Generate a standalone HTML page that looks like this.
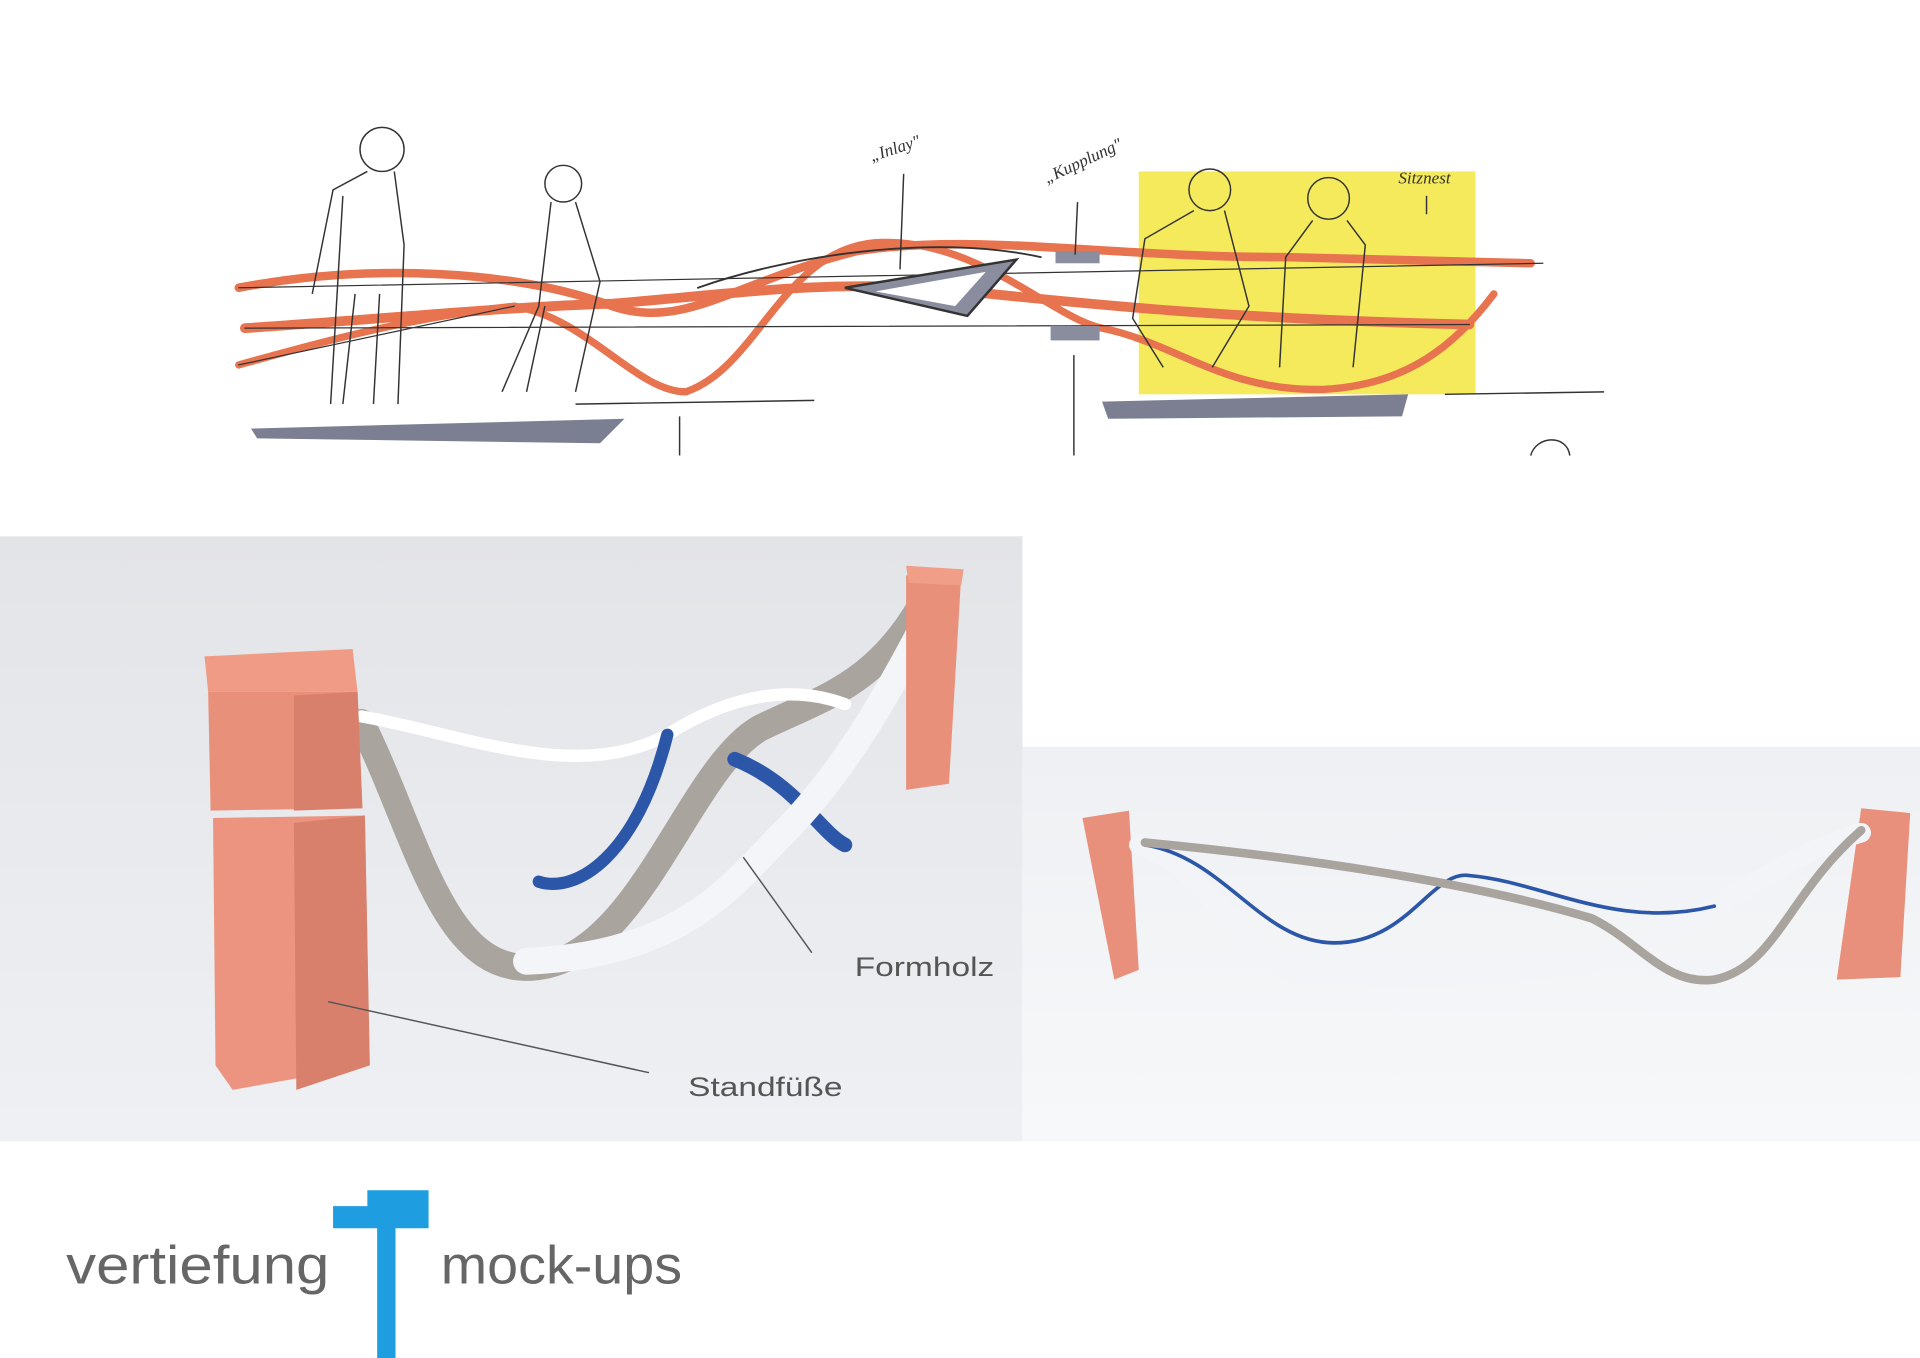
<!DOCTYPE html>
<html><head><meta charset="utf-8"><style>
html,body{margin:0;padding:0;background:#fff;}
svg{display:block;}
</style></head><body>
<svg width="1920" height="1358" viewBox="0 0 1568 1109" preserveAspectRatio="none" xmlns="http://www.w3.org/2000/svg">
<defs>
<linearGradient id="lp" x1="0" y1="0" x2="0" y2="1"><stop offset="0" stop-color="#e3e4e7"/><stop offset="1" stop-color="#eef0f4"/></linearGradient>
<linearGradient id="rp" x1="0" y1="0" x2="0" y2="1"><stop offset="0" stop-color="#eef0f3"/><stop offset="1" stop-color="#f7f8fa"/></linearGradient>
</defs>
<rect width="1568" height="1109" fill="#fff"/>
<rect x="930" y="140" width="275" height="182" fill="#f4ea5c"/>
<g fill="none" stroke-linecap="round">
<path d="M195 235 C300 215 420 220 500 250 C560 270 600 230 700 205 C800 190 900 210 1050 210 L1250 215" stroke="#e8734f" stroke-width="7"/>
<path d="M200 268 C320 260 420 250 500 248 C600 240 660 230 760 235 C860 245 980 260 1200 265" stroke="#e8734f" stroke-width="8"/>
<path d="M195 298 C260 280 330 260 420 250 C480 260 520 320 560 320 C620 300 640 200 720 198 C800 196 860 260 900 268 C960 280 1000 320 1080 318 C1150 315 1190 280 1220 240" stroke="#e8734f" stroke-width="6"/>
<path d="M570 235 C640 210 760 190 850 210" stroke="#333" stroke-width="1.5"/>
<path d="M195 235 L1260 215 M200 268 L1200 265 M195 298 L420 250" stroke="#333" stroke-width="1"/>
</g>
<path d="M690 235 L830 212 L790 258 Z" fill="#8a8d9e" stroke="#333" stroke-width="2"/>
<path d="M715 238 L805 222 L780 250 Z" fill="#fff"/>
<rect x="862" y="205" width="36" height="10" fill="#8a8d9e"/>
<rect x="858" y="266" width="40" height="12" fill="#8a8d9e"/>
<path d="M205 350 L510 342 L490 362 L210 358 Z" fill="#7c7f92"/>
<path d="M900 328 L1150 322 L1145 340 L905 342 Z" fill="#7c7f92"/>
<g stroke="#333" stroke-width="1.2" fill="none">
<path d="M470 330 L665 327 M1180 322 L1310 320 M555 340 L555 372 M877 290 L877 372 M738 142 L735 220 M880 165 L878 208 M1165 160 L1165 175"/>
<circle cx="312" cy="122" r="18"/><path d="M300 140 L272 155 L255 240 M322 140 L330 200 M280 160 L270 330 M330 200 L325 330 M290 240 L280 330 M310 240 L305 330"/>
<circle cx="460" cy="150" r="15"/><path d="M450 165 L440 250 L410 320 M470 165 L490 230 L470 320 M445 250 L430 320"/>
<circle cx="988" cy="155" r="17"/><path d="M975 172 L935 195 L925 260 L950 300 M1000 172 L1020 250 L990 300"/>
<circle cx="1085" cy="162" r="17"/><path d="M1072 180 L1050 210 L1045 300 M1100 180 L1115 200 L1105 300"/>
<path d="M1250 372 C1255 355 1280 355 1282 372"/>
</g>
<g font-family="Liberation Serif, serif" font-style="italic" font-size="14" fill="#333">
<text x="712" y="132" transform="rotate(-18 712 132)">„Inlay"</text>
<text x="855" y="150" transform="rotate(-25 855 150)">„Kupplung"</text>
<text x="1142" y="150">Sitznest</text>
</g>
<rect x="0" y="438" width="835" height="494" fill="url(#lp)"/>
<g fill="none" stroke-linecap="round">
<path d="M295 590 C340 680 360 790 430 790 C520 790 560 630 620 595 C670 570 720 560 760 480" stroke="#a9a49e" stroke-width="22"/>
<path d="M295 585 C380 600 470 640 545 600 C600 565 650 560 690 575" stroke="#fff" stroke-width="10"/>
<path d="M545 600 C520 700 470 730 440 720" stroke="#2c56a8" stroke-width="10"/>
<path d="M600 620 C650 640 670 680 690 690" stroke="#2c56a8" stroke-width="12"/>
<path d="M430 785 C560 780 600 720 640 680 C690 630 730 560 770 480" stroke="#f4f5f8" stroke-width="22"/>
</g>
<path d="M740 470 L785 470 L775 640 L740 645 Z" fill="#e9907b"/>
<path d="M740 462 L787 465 L785 478 L742 476 Z" fill="#f09e88"/>
<path d="M167 536 L288 530 L292 565 L170 565 Z" fill="#ef9b86"/>
<path d="M170 565 L292 565 L296 660 L172 662 Z" fill="#e9907b"/>
<path d="M174 668 L298 666 L302 870 L190 890 L176 870 Z" fill="#ec947f"/>
<path d="M240 568 L292 565 L296 660 L240 662 Z" fill="#d9806c"/>
<path d="M240 672 L298 666 L302 870 L242 890 Z" fill="#d9806c"/>
<g stroke="#555" stroke-width="1.2"><line x1="607" y1="700" x2="663" y2="778"/><line x1="268" y1="818" x2="530" y2="876"/></g>
<g font-family="Liberation Sans, sans-serif" font-size="22" fill="#555">
<text x="698" y="797" textLength="114" lengthAdjust="spacingAndGlyphs">Formholz</text><text x="562" y="895" textLength="126" lengthAdjust="spacingAndGlyphs">Standfüße</text></g>
<rect x="835" y="610" width="733" height="322" fill="url(#rp)"/>
<path d="M884 668 L922 662 L930 792 L910 800 Z" fill="#e8907b"/>
<path d="M1520 660 L1560 664 L1552 798 L1500 800 Z" fill="#e8907b"/>
<g fill="none" stroke-linecap="round">
<path d="M930 690 C990 710 1010 780 1060 795 C1150 800 1250 800 1320 780 C1400 750 1450 700 1520 680" stroke="#f3f4f7" stroke-width="16"/>
<path d="M935 690 C1000 700 1030 770 1090 770 C1150 770 1170 710 1200 715 C1260 720 1320 760 1400 740" stroke="#2c56a8" stroke-width="3"/>
<path d="M935 688 C1060 700 1200 720 1300 750 C1340 770 1360 805 1400 800 C1450 790 1460 730 1520 678" stroke="#a9a49e" stroke-width="7"/>
</g>
<g font-family="Liberation Sans, sans-serif" font-size="44" fill="#666">
<text x="54" y="1048" textLength="215" lengthAdjust="spacingAndGlyphs">vertiefung</text><text x="360" y="1048" textLength="197" lengthAdjust="spacingAndGlyphs">mock-ups</text></g>
<path d="M300 972 L350 972 L350 1003 L323 1003 L323 1109 L308 1109 L308 1003 L272 1003 L272 985 L300 985 Z" fill="#1e9ee0"/>
</svg>
</body></html>
